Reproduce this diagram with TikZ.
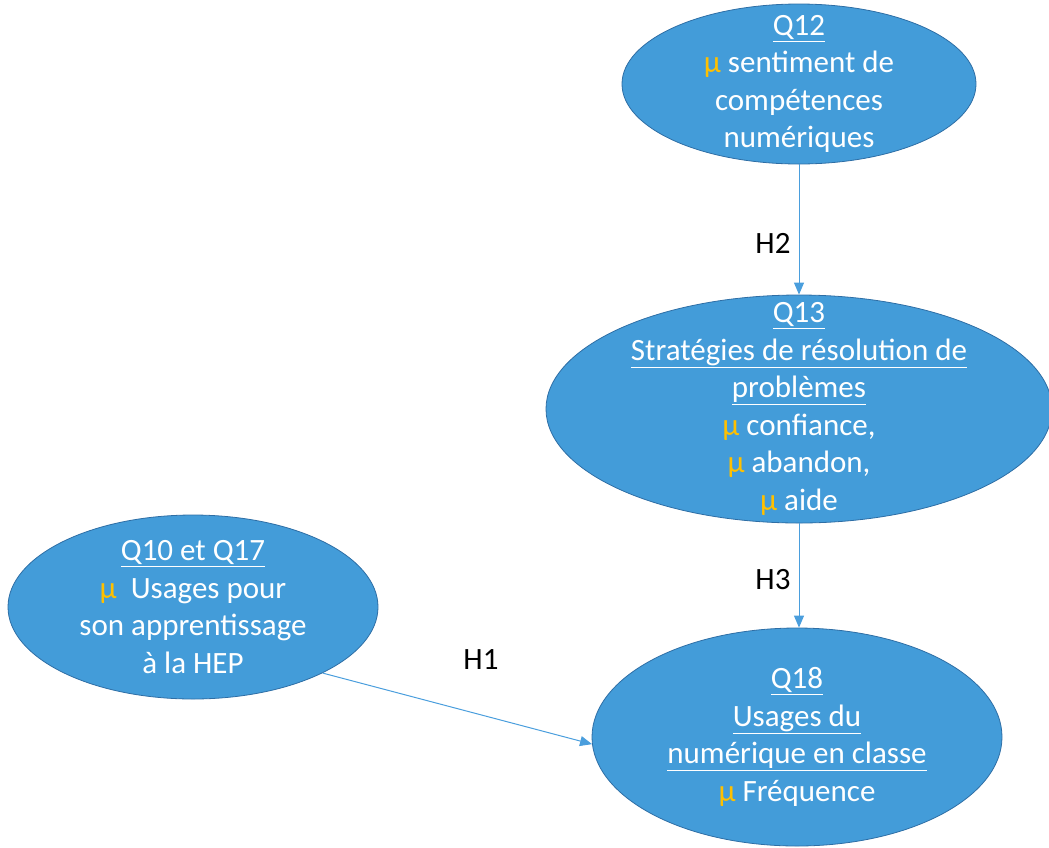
\documentclass[tikz,border=0pt]{standalone}
\usepackage{fontspec}
\setmainfont{Carlito}
\usepackage{tikz}
\usetikzlibrary{shapes.geometric, arrows.meta, positioning}

\definecolor{ovalblue}{RGB}{67,156,217}
\definecolor{ovalline}{RGB}{46,110,165}
\definecolor{mugold}{RGB}{255,192,0}
\definecolor{linkblue}{RGB}{74,158,221}
\newcommand{\mugl}{\textcolor{mugold}{µ}}

\begin{document}
\begin{tikzpicture}[
        x=1pt, y=-1pt,
        oval/.style={ellipse, draw=ovalline, fill=ovalblue, line width=0.8pt, inner xsep=0pt, inner ysep=-36pt, align=center, text=white, font=\fontsize{31}{37.5}\selectfont},
        link/.style={-{Triangle[length=12pt, width=10pt]}, linkblue, line width=1pt},
        hlabel/.style={font=\fontsize{31}{37.5}\selectfont}
    ]
        \useasboundingbox (0,0) rectangle (1049,847);

        % Nodes
        \node[oval, minimum width=354pt, minimum height=160pt] (q12) at (799,84) {\underline{Q12}\\ \mugl{} sentiment de\\ compétences\\ numériques};
        \node[oval, minimum width=506pt, minimum height=228pt] (q13) at (799,409) {\underline{Q13}\\ \underline{Stratégies de résolution de}\\ \underline{problèmes}\\ \mugl{} confiance,\\ \mugl{} abandon,\\ \mugl{} aide};
        \node[oval, minimum width=370pt, minimum height=184pt] (q10) at (193,607) {\underline{Q10 et Q17}\\ \mugl\ \ Usages pour\\ son apprentissage\\ à la HEP};
        \node[oval, minimum width=410pt, minimum height=218pt] (q18) at (797,737) {\underline{Q18}\\ \underline{Usages du}\\ \underline{numérique en classe}\\ \mugl{} Fréquence};

        % Labels
        \node[hlabel] (h2) at (773,243) {H2};
        \node[hlabel] (h3) at (773,580) {H3};
        \node[hlabel] (h1) at (481,660) {H1};

        % Arrows
        \draw[link] (q12.south) -- (q13.north);
        \draw[link] (q13.south) -- (q13.south |- q18.north);
        \draw[link] (q10.-27) -- (q18.182);
    \end{tikzpicture}
\end{document}
